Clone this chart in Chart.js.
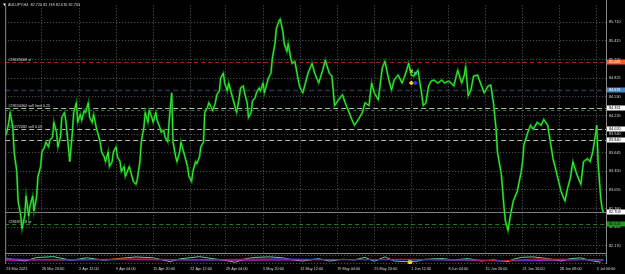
<!DOCTYPE html>
<html>
<head>
<meta charset="utf-8">
<script src="https://cdn.jsdelivr.net/npm/chart.js@4.4.1/dist/chart.umd.min.js"></script>
<style>
  html, body { margin: 0; padding: 0; background: #000; overflow: hidden; }
</style>
</head>
<body>
<canvas id="chart" width="625" height="274"></canvas>
<script>
// H4 bar number (0 = first bar on screen) and close price
const barNo = [
  0, 2, 3, 5, 6, 8, 9, 11, 12, 14, 15, 17, 18, 20, 21, 23, 24, 26, 27, 29,
  30, 32, 33, 35, 36, 38, 39, 41, 42, 44, 45, 47, 48, 50, 51, 53, 54, 56, 57, 59,
  60, 62, 63, 65, 66, 68, 69, 71, 72, 74, 75, 77, 78, 80, 81, 83, 84, 86, 87, 89,
  90, 92, 93, 95, 96, 98, 99, 101, 102, 104, 105, 107, 108, 110, 111, 113, 114, 116, 117, 119,
  120, 122, 123, 125, 126, 128, 129, 131, 132, 134, 135, 137, 138, 140, 141, 143, 144, 146, 147, 149,
  150, 152, 153, 155, 156, 158, 159, 161, 162, 164, 165, 167, 168, 170, 171, 173, 174, 176, 177, 179,
  180, 182, 183, 185, 186, 188, 189, 191, 192, 194, 195, 197, 198, 200, 201, 203, 204, 206, 207, 209,
  210, 212, 213, 215, 216, 218, 219, 221, 222, 224,
  226, 228, 231, 233, 236, 239, 241, 244, 246, 248, 251, 254, 256, 259, 261, 263, 266, 269, 271, 274,
  276, 278, 281, 284, 286, 289, 291, 293, 296, 299, 301, 304, 306, 308, 311, 314, 315, 317, 319, 321,
  323, 326, 329, 331, 334, 336, 338, 341, 344, 346, 347, 349, 351, 353, 356, 359, 361, 364, 366, 368,
  370, 371, 374, 375, 376, 377, 379, 381, 383, 386, 389, 390, 391, 394, 396, 398, 401, 404, 406, 409,
  411, 413, 416, 419, 421, 422, 424, 426, 428, 431, 434, 436, 439, 441, 443, 445, 446, 447, 449, 450, 451
];
const closePrice = [
  83.923, 84.126, 84.282, 84.048, 83.659, 83.347, 82.880, 82.646, 82.444, 82.646,
  82.958, 82.646, 82.802, 82.958, 82.724, 82.958, 83.269, 83.425, 83.659, 83.736,
  83.814, 83.736, 83.846, 83.892, 84.126, 83.970, 83.736, 83.892, 84.204, 84.282,
  84.157, 83.736, 83.503, 83.970, 84.282, 84.437, 84.126, 84.251, 84.157, 84.313,
  84.282, 84.437, 84.204, 84.126, 84.251, 84.048, 83.970, 83.814, 83.659, 83.581,
  83.503, 83.659, 83.425, 83.503, 83.659, 83.736, 83.581, 83.503, 83.347, 83.425,
  83.269, 83.378, 83.425, 83.269, 83.191, 83.145, 83.222, 83.503, 83.814, 84.048,
  84.282, 84.126, 84.313, 84.204, 84.126, 84.282, 84.157, 84.048, 83.970, 84.001,
  83.892, 83.814, 84.126, 84.593, 83.814, 83.581, 83.503, 83.659, 83.814, 83.659,
  83.581, 83.425, 83.269, 83.191, 83.347, 83.503, 83.472, 83.581, 83.736, 83.814,
  84.282, 84.360, 84.437, 84.360, 84.313, 84.437, 84.562, 84.624, 84.827, 84.905,
  84.749, 84.624, 84.749, 84.593, 84.515, 84.360, 84.282, 84.515, 84.671, 84.702,
  84.593, 84.437, 84.204, 84.282, 84.469, 84.515, 84.593, 84.671, 84.624, 84.749,
  84.593, 84.749, 84.827, 84.905, 85.138, 85.372, 85.606, 85.730, 85.761, 85.559,
  85.372, 85.247, 85.372, 85.138, 85.060, 85.092, 84.983, 84.749, 84.671, 84.593,
  84.749, 84.905, 85.060, 84.905, 84.749, 84.951, 85.107, 84.905, 84.858, 84.391,
  84.484, 84.562, 84.437, 84.282, 84.173, 84.079, 84.173, 84.282, 84.437, 84.391,
  84.749, 84.593, 84.484, 84.983, 85.092, 84.796, 84.640, 84.796, 84.874, 84.749,
  84.858, 85.060, 84.874, 84.858, 84.951, 84.546, 84.391, 84.437, 84.702, 84.780,
  84.796, 84.749, 84.796, 84.749, 84.780, 84.749, 84.702, 84.951, 84.749, 84.874,
  85.014, 84.546, 84.640, 84.858, 84.874, 84.702, 84.593, 84.702, 84.718, 84.437,
  84.017, 83.659, 83.300, 83.036, 82.771, 82.568, 82.413, 82.677, 82.880, 83.036,
  83.347, 83.503, 83.768, 83.970, 84.079, 84.017, 84.126, 84.079, 84.173, 84.079,
  83.814, 83.550, 83.300, 83.036, 82.927, 82.880, 83.082, 83.238, 83.503, 83.300,
  83.145, 83.503, 83.550, 83.503, 83.659, 83.923, 84.079, 83.503, 82.927, 82.771, 82.703
];

const priceTicks = [85.710, 85.415, 85.120, 84.825, 84.530, 84.235, 83.940,
  83.645, 83.350, 83.055, 82.760, 82.465, 82.170];

const timeTickBars = [0, 27, 55, 83, 111, 139, 166, 194, 222, 250, 278, 306, 334, 362, 390, 418, 446];
const timeLabels = ["23 Mar 2021", "26 Mar 20:00", "2 Apr 12:00", "9 Apr 04:00", "15 Apr 20:00",
  "22 Apr 12:00", "29 Apr 04:00", "5 May 20:00", "12 May 12:00", "19 May 04:00", "25 May 20:00",
  "1 Jun 12:00", "8 Jun 04:00", "15 Jun 20:00", "21 Jun 16:00", "28 Jun 08:00", "5 Jul 00:00"];

// order / price lines
const orderPrices = [85.081, 84.631, 84.361, 84.328, 84.020, 83.840, 82.703, 82.520];
const orderTexts = ["#28695668 sl", "", "#28654464 sell limit 0.25", "", "#28272082 sell 0.05", "", "", "#28695648 tp"];

// trade arrows near 1 Jun
const arrowBars = [306, 309, 306, 309];
const arrowPrices = [84.936, 84.905, 84.749, 84.749];

// indicator window (0..100)
const oscBars = [0, 14, 23, 36, 49, 61, 74, 86, 98, 111, 124, 131, 146, 156, 166, 173, 181, 188, 199, 209,
  216, 224, 236, 244, 254, 263, 271, 278, 286, 293, 304, 311, 316, 329, 338, 349, 359, 368, 379, 383,
  389, 398, 409, 419, 426, 434, 441, 449];
const oscValues = [68, 28, 80, 92, 40, 76, 40, 68, 88, 76, 20, 60, 92, 64, 36, 11, 64, 82, 89, 75,
  46, 29, 64, 29, 54, 46, 82, 25, 89, 29, 18, 29, 54, 64, 46, 64, 29, 46, 21, 54,
  82, 89, 64, 29, 64, 75, 39, 11];
const redBars = [0, 40, 90, 140, 190, 240, 300, 350, 366, 372, 381, 400, 440, 451];
const redValues = [55, 45, 60, 50, 55, 50, 55, 45, 40, 25, 40, 60, 50, 45];
const blueBars = [0, 50, 100, 150, 200, 260, 320, 380, 420, 451];
const blueValues = [60, 40, 55, 45, 60, 50, 45, 35, 55, 40];
const magentaBars = [0, 60, 120, 180, 250, 320, 380, 430, 451];
const magentaValues = [40, 50, 45, 40, 48, 50, 30, 45, 50];
const signalBars = [305];
const signalValues = [15];

const FONT = "'Liberation Sans', Arial, sans-serif";
const TXT = "#d8d8d8";
const GRID = "#5c5c5c";

function pts(xs, ys) {
  return xs.map((x, i) => ({ x: x, y: ys[i] }));
}

// style of each order line, same order as orderPrices
const lineStyle = [
  { color: "#a8201a", dash: [4, 3], box: "#ff5a1e", boxText: "#ffffff" },
  { color: "#23384f", dash: [5, 3], box: "#4a86c0", boxText: "#ffffff", width: 1.5 },
  { color: "#b8b8b8", dash: [5, 3], box: "#ffffff", boxText: "#000000" },
  { color: "#1f7f1f", dash: [3, 3] },
  { color: "#b8b8b8", dash: [5, 3], box: "#ffffff", boxText: "#000000" },
  { color: "#b8b8b8", dash: [5, 3], box: "#ffffff", boxText: "#000000" },
  { color: "#808080", dash: [], box: "#ffffff", boxText: "#000000" },
  { color: "#1f7f1f", dash: [4, 3], box: "#1e9b1e", boxText: "#000000" }
];

const mtDecor = {
  id: "mtDecor",
  beforeDatasetsDraw(chart) {
    const { ctx, chartArea: a } = chart;
    // indicator sub window
    ctx.save();
    ctx.fillStyle = "#000";
    ctx.fillRect(a.left, 253, a.right - a.left, a.bottom - 253);
    ctx.strokeStyle = "#8a8a8a";
    ctx.lineWidth = 1;
    ctx.beginPath();
    ctx.moveTo(a.left, 253.5); ctx.lineTo(a.right, 253.5);
    ctx.stroke();
    ctx.setLineDash([1, 2]);
    ctx.strokeStyle = "#6a6a6a";
    ctx.beginPath();
    ctx.moveTo(a.left, 255.5); ctx.lineTo(a.right, 255.5);
    ctx.moveTo(a.left, 263.5); ctx.lineTo(a.right, 263.5);
    ctx.stroke();
    ctx.restore();

    // order lines
    const y = chart.scales.y;
    ctx.save();
    orderPrices.forEach((p, i) => {
      const st = lineStyle[i];
      const py = Math.round(y.getPixelForValue(p)) + 0.5;
      ctx.strokeStyle = st.color;
      ctx.lineWidth = st.width || 1;
      ctx.setLineDash(st.dash);
      ctx.beginPath();
      ctx.moveTo(a.left, py);
      ctx.lineTo(a.right, py);
      ctx.stroke();
      if (orderTexts[i]) {
        ctx.fillStyle = TXT;
        ctx.font = "3.8px " + FONT;
        ctx.textBaseline = "bottom";
        ctx.textAlign = "left";
        ctx.fillText(orderTexts[i], a.left + 3, py - 1);
      }
    });
    ctx.restore();
  },
  afterDraw(chart) {
    const { ctx, chartArea: a } = chart;
    const y = chart.scales.y;
    ctx.save();
    // frame
    ctx.strokeStyle = "#8a8a8a";
    ctx.lineWidth = 1;
    ctx.beginPath();
    ctx.moveTo(a.left + 0.5, a.top); ctx.lineTo(a.left + 0.5, a.bottom);
    ctx.moveTo(a.right + 0.5, 0); ctx.lineTo(a.right + 0.5, a.bottom);
    ctx.stroke();

    // price boxes on the right axis
    ctx.font = "3.8px " + FONT;
    ctx.textBaseline = "middle";
    ctx.textAlign = "left";
    orderPrices.forEach((p, i) => {
      const st = lineStyle[i];
      if (!st.box) return;
      const py = Math.round(y.getPixelForValue(p));
      ctx.fillStyle = st.box;
      ctx.fillRect(a.right + 1, py - 2.5, 18, 5);
      ctx.fillStyle = st.boxText;
      ctx.fillText(p.toFixed(3), a.right + 3, py + 0.3);
    });

    // title
    ctx.fillStyle = "#ffffff";
    ctx.beginPath();
    ctx.moveTo(3, 3.5); ctx.lineTo(6, 3.5); ctx.lineTo(4.5, 6);
    ctx.closePath();
    ctx.fill();
    ctx.fillStyle = TXT;
    ctx.textBaseline = "middle";
    ctx.fillText("AUDJPY,H4  82.720 82.749 82.676 82.703", 8, 4.8);
    ctx.restore();
  }
};

new Chart(document.getElementById("chart"), {
  type: "line",
  data: {
    datasets: [
      {
        // bright close line drawn on top of a darker bar-body band
        data: pts(barNo, closePrice),
        borderColor: "#3cf03c",
        borderWidth: 1,
        pointRadius: 0,
        yAxisID: "y",
        order: 0
      },
      {
        data: pts(barNo, closePrice),
        borderColor: "#0a780a",
        borderWidth: 2.2,
        pointRadius: 0,
        yAxisID: "y",
        order: 1
      },
      {
        data: pts(arrowBars.slice(0, 2), arrowPrices.slice(0, 2)),
        showLine: false,
        pointStyle: "crossRot",
        pointRadius: 2,
        borderWidth: 1.2,
        pointBorderColor: ["#ffd700", "#20c0c0"],
        yAxisID: "y"
      },
      {
        data: pts(arrowBars.slice(2), arrowPrices.slice(2)),
        showLine: false,
        pointStyle: "rectRot",
        pointRadius: 2,
        pointBackgroundColor: ["#ffd700", "#1f3cff"],
        pointBorderColor: ["#ffd700", "#1f3cff"],
        yAxisID: "y"
      },
      { data: pts(redBars, redValues), borderColor: "#e01414", borderWidth: 1, pointRadius: 0, yAxisID: "y2" },
      { data: pts(blueBars, blueValues), borderColor: "#2a3cff", borderWidth: 1, pointRadius: 0, yAxisID: "y2" },
      { data: pts(magentaBars, magentaValues), borderColor: "#c828c8", borderWidth: 1, pointRadius: 0, yAxisID: "y2" },
      { data: pts(oscBars, oscValues), borderColor: "#5cd8a0", borderWidth: 1, pointRadius: 0, yAxisID: "y2" },
      {
        data: pts(signalBars, signalValues), showLine: false, pointRadius: 2,
        pointBackgroundColor: "#ffee00", pointBorderColor: "#ffee00", yAxisID: "y2"
      }
    ]
  },
  options: {
    responsive: false,
    animation: false,
    devicePixelRatio: 1,
    layout: { padding: { left: 1, top: 1, right: 0, bottom: 0 } },
    plugins: { legend: { display: false }, tooltip: { enabled: false } },
    scales: {
      x: {
        type: "linear",
        min: -0.75,
        max: 453,
        afterBuildTicks: s => { s.ticks = timeTickBars.map(v => ({ value: v })); },
        afterFit: s => { s.height = 10; },
        grid: {
          color: c => (c.tick && c.tick.value === 0 ? "rgba(0,0,0,0)" : GRID),
          drawTicks: false
        },
        border: { display: false, dash: [1, 2] },
        ticks: {
          autoSkip: false,
          maxRotation: 0,
          align: "start",
          padding: 3,
          color: TXT,
          font: { size: 3.8, family: FONT },
          callback: v => {
            const i = timeTickBars.indexOf(v);
            return i >= 0 ? timeLabels[i] : "";
          }
        }
      },
      y: {
        position: "right",
        min: 81.883,
        max: 85.980,
        afterBuildTicks: s => { s.ticks = priceTicks.map(v => ({ value: v })); },
        afterFit: s => { s.width = 19; },
        grid: { color: GRID, drawTicks: false },
        border: { display: false, dash: [1, 2] },
        ticks: {
          padding: 3,
          color: TXT,
          font: { size: 3.8, family: FONT },
          callback: v => v.toFixed(3)
        }
      },
      y2: {
        display: false,
        min: -14.3,
        max: 3742.9
      }
    }
  },
  plugins: [mtDecor]
});
</script>
</body>
</html>
